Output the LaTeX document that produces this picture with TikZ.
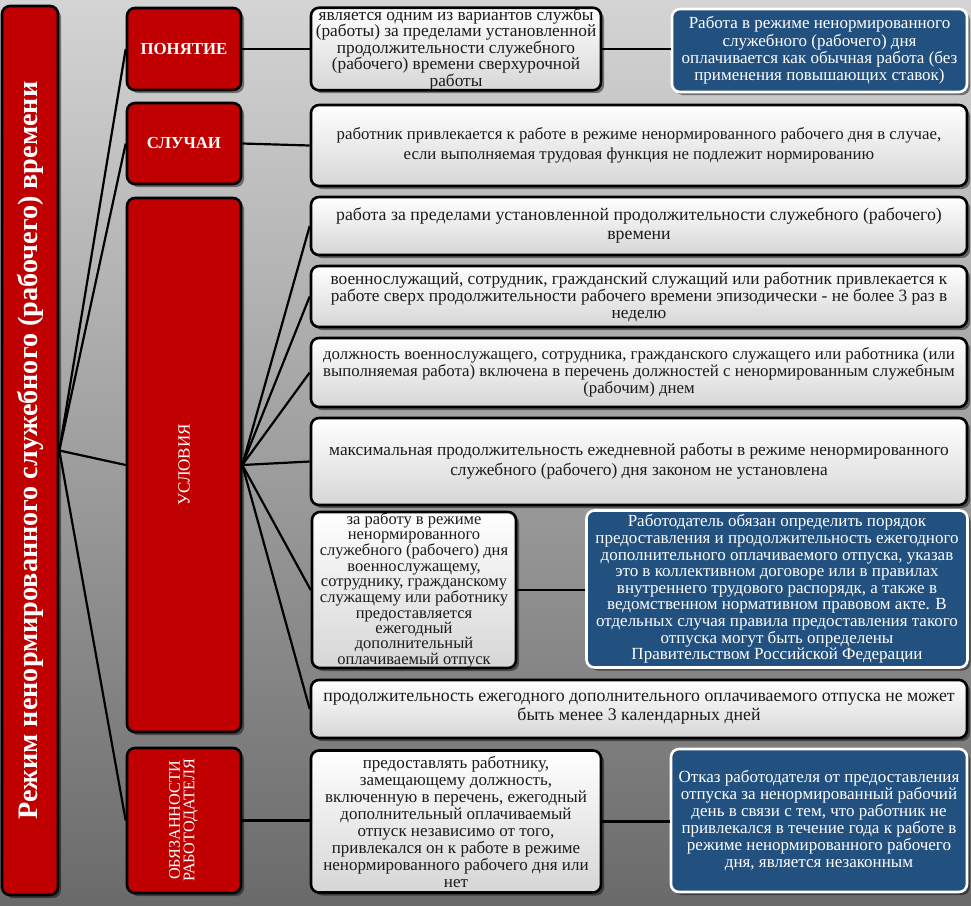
\documentclass[tikz,border=0pt]{standalone}
\usepackage{fontspec}
\setmainfont{Liberation Serif}
\usepackage{graphicx}
\usetikzlibrary{shadows}
\definecolor{catred}{HTML}{C00000}
\definecolor{boxblue}{HTML}{22507F}
\definecolor{bgtop}{HTML}{D4D4D4}
\definecolor{bgbot}{HTML}{6A6A6A}
\definecolor{txt}{HTML}{1A1A1A}
\definecolor{wbot}{HTML}{D6D6D6}
\newcommand\fs[2]{\fontsize{#1}{#2}\selectfont}
\tikzset{
  shad/.style={drop shadow={shadow xshift=3pt,shadow yshift=-3pt,opacity=0.45,fill=black}},
  catbox/.style={draw=black,line width=2.6pt,fill=catred,rounded corners=8pt,shad,text=white,align=center,inner sep=0pt},
  wbox/.style={draw=black,line width=2.6pt,rounded corners=8pt,top color=white,bottom color=wbot,shad,text=txt,align=center,inner sep=0pt},
  bbox/.style={draw=white,line width=2.6pt,rounded corners=8pt,fill=boxblue,shad,text=white,align=center,inner sep=0pt},
  conn/.style={line width=2.2pt,black}
}
\begin{document}
\begin{tikzpicture}[x=1pt,y=-1pt]
\shade[top color=bgtop,bottom color=bgbot] (0,0) rectangle (971,905);
\useasboundingbox (0,0) rectangle (971,905);

% main and category boxes
\node[catbox,minimum width=56pt,minimum height=889pt] (main) at (30,450.5)
  {\rotatebox{90}{\fs{28.2}{30}\bfseries Режим ненормированного служебного (рабочего) времени}};
\node[catbox,minimum width=114pt,minimum height=82pt,font=\fs{16.8}{18}\bfseries] (pon) at (184,49) {ПОНЯТИЕ};
\node[catbox,minimum width=114pt,minimum height=81pt,font=\fs{16.8}{18}\bfseries] (slu) at (184,143.5) {СЛУЧАИ};
\node[catbox,minimum width=114pt,minimum height=534pt] (usl) at (184,465) {\rotatebox{90}{\fs{17}{18}УСЛОВИЯ}};
\node[catbox,minimum width=114pt,minimum height=145pt] (obz) at (184,820.5)
  {\rotatebox{90}{\fs{16.2}{16}\begin{tabular}{@{}c@{}}ОБЯЗАННОСТИ\\[-1.5pt]РАБОТОДАТЕЛЯ\end{tabular}}};

% concept row
\node[wbox,minimum width=290pt,minimum height=82pt,font=\fs{17.3}{16.6}] (ponT) at (456,49) {является одним из вариантов службы\\(работы) за пределами установленной\\продолжительности служебного\\(рабочего) времени сверхурочной\\работы};
\node[bbox,minimum width=295pt,minimum height=83pt,font=\fs{17}{17.3}] (b1) at (819.5,50.5) {Работа в режиме ненормированного\\служебного (рабочего) дня\\оплачивается как обычная работа (без\\применения повышающих ставок)};

% cases
\node[wbox,minimum width=656pt,minimum height=81pt,font=\fs{16.8}{20}] (sluT) at (639,145.5) {работник привлекается к работе в режиме ненормированного рабочего дня в случае,\\если выполняемая трудовая функция не подлежит нормированию};

% conditions
\node[wbox,minimum width=656pt,minimum height=58pt,font=\fs{17.8}{19}] (c1) at (639,226) {работа за пределами установленной продолжительности служебного (рабочего)\\времени};
\node[wbox,minimum width=656pt,minimum height=61pt,font=\fs{17.3}{17}] (c2) at (639,296.5) {военнослужащий, сотрудник, гражданский служащий или работник привлекается к\\работе сверх продолжительности рабочего времени эпизодически - не более 3 раз в\\неделю};
\node[wbox,minimum width=656pt,minimum height=69pt,font=\fs{16.8}{17}] (c3) at (639,372.5) {должность военнослужащего, сотрудника, гражданского служащего или работника (или\\выполняемая работа) включена в перечень должностей с ненормированным служебным\\(рабочим) днем};
\node[wbox,minimum width=656pt,minimum height=87pt,font=\fs{17.3}{20}] (c4) at (639,461.5) {максимальная продолжительность ежедневной работы в режиме ненормированного\\служебного (рабочего) дня законом не установлена};
\node[wbox,minimum width=204pt,minimum height=156pt,font=\fs{16.5}{15.3}] (c5) at (414,590) {за работу в режиме\\ненормированного\\служебного (рабочего) дня\\военнослужащему,\\сотруднику, гражданскому\\служащему или работнику\\предоставляется\\ежегодный\\дополнительный\\оплачиваемый отпуск};
\node[bbox,minimum width=381pt,minimum height=157pt,font=\fs{17}{16.6}] (b2) at (777,589) {Работодатель обязан определить порядок\\предоставления и продолжительность ежегодного\\дополнительного оплачиваемого отпуска, указав\\это в коллективном договоре или в правилах\\внутреннего трудового распорядк, а также в\\ведомственном нормативном правовом акте. В\\отдельных случая правила предоставления такого\\отпуска могут быть определены\\Правительством Российской Федерации};
\node[wbox,minimum width=656pt,minimum height=58pt,font=\fs{17.8}{19}] (c6) at (639,709) {продолжительность ежегодного дополнительного оплачиваемого отпуска не может\\быть менее 3 календарных дней};

% duties row
\node[wbox,minimum width=290pt,minimum height=142pt,font=\fs{17}{17}] (obzT) at (456,821.5) {предоставлять работнику,\\замещающему должность,\\включенную в перечень, ежегодный\\дополнительный оплачиваемый\\отпуск независимо от того,\\привлекался он к работе в режиме\\ненормированного рабочего дня или\\нет};
\node[bbox,minimum width=296pt,minimum height=143pt,font=\fs{17}{17}] (b3) at (819,820.5) {Отказ работодателя от предоставления\\отпуска за ненормированный рабочий\\день в связи с тем, что работник не\\привлекался в течение года к работе в\\режиме ненормированного рабочего\\дня, является незаконным};

% connectors
\draw[conn] (main.east) -- (pon.west);
\draw[conn] (main.east) -- (slu.west);
\draw[conn] (main.east) -- (usl.west);
\draw[conn] (main.east) -- (obz.west);
\draw[conn] (pon.east) -- (ponT.west);
\draw[conn] (ponT.east) -- (b1.west |- ponT.east);
\draw[conn] (slu.east) -- (sluT.west);
\foreach \n in {c1,c2,c3,c4,c5,c6} \draw[conn] (usl.east) -- (\n.west);
\draw[conn] (c5.east) -- (b2.west |- c5.east);
\draw[conn] (obz.east) -- (obzT.west |- obz.east);
\draw[conn] (obzT.east) -- (b3.west |- obzT.east);
\end{tikzpicture}
\end{document}
